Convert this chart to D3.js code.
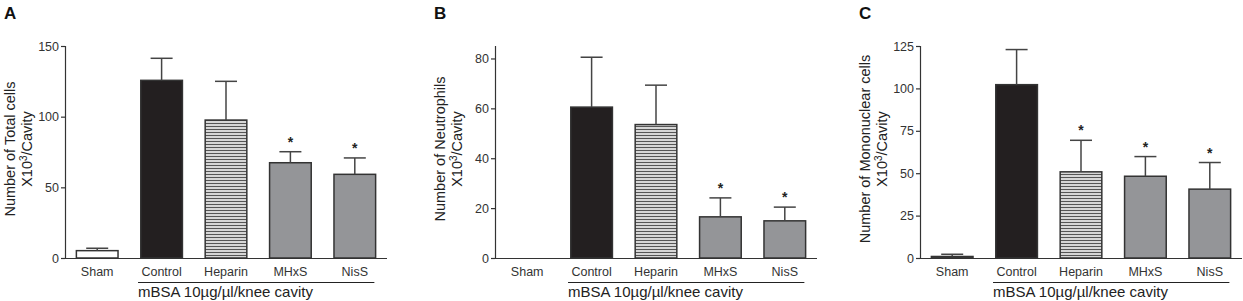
<!DOCTYPE html>
<html>
<head>
<meta charset="utf-8">
<script src="https://cdn.jsdelivr.net/npm/d3@7"></script>
<style>
  body { margin: 0; background: #fff; }
  svg { display: block; font-family: "Liberation Sans", Arial, sans-serif; }
</style>
</head>
<body>
<svg id="chart" width="1243" height="301"></svg>
<script>
const categories = ["Sham", "Control", "Heparin", "MHxS", "NisS"];
const groupLabel = "mBSA 10\u00b5g/\u00b5l/knee cavity";

const totalMean = [5.2, 125.7, 97.6, 67.4, 59.2];
const totalErr  = [6.9, 141.3, 125.0, 75.2, 70.8];
const totalStar = [false, false, false, true, true];
const totalTicks = [0, 50, 100, 150];

const neutroMean = [0, 60.5, 53.5, 16.5, 14.9];
const neutroErr  = [null, 80.5, 69.3, 24.1, 20.4];
const neutroStar = [false, false, false, true, true];
const neutroTicks = [0, 20, 40, 60, 80];

const monoMean = [0.9, 102.2, 50.8, 48.2, 40.6];
const monoErr  = [2.2, 122.9, 69.4, 59.8, 56.3];
const monoStar = [false, false, true, true, true];
const monoTicks = [0, 25, 50, 75, 100, 125];

const panels = [
  { letter: "A", title: "Number of Total cells", mean: totalMean, err: totalErr, star: totalStar, ticks: totalTicks, max: 150, x0: 65 },
  { letter: "B", title: "Number of Neutrophils", mean: neutroMean, err: neutroErr, star: neutroStar, ticks: neutroTicks, max: 85, x0: 495 },
  { letter: "C", title: "Number of Mononuclear cells", mean: monoMean, err: monoErr, star: monoStar, ticks: monoTicks, max: 125, x0: 920 }
];

const svg = d3.select("#chart");
const defs = svg.append("defs");
const pat = defs.append("pattern").attr("id", "stripes")
  .attr("patternUnits", "userSpaceOnUse").attr("width", 6).attr("height", 3);
pat.append("rect").attr("width", 6).attr("height", 3).attr("fill", "#d6d6d6");
pat.append("rect").attr("y", 0).attr("width", 6).attr("height", 1).attr("fill", "#555");

const fills = ["#ffffff", "#231f20", "url(#stripes)", "#949598", "#949598"];
const ink = "#333";
const yBottom = 258, yTop = 46, plotW = 322;

panels.forEach(p => {
  const g = svg.append("g");
  const x = d3.scaleBand().domain(categories).range([p.x0, p.x0 + plotW])
    .paddingInner(0.33).paddingOuter(0.165);
  const y = d3.scaleLinear().domain([0, p.max]).range([yBottom, yTop]);

  // panel letter
  g.append("text").attr("x", p.x0 - 61).attr("y", 19)
    .attr("font-size", 17).attr("font-weight", "bold").attr("fill", "#111").text(p.letter);

  // y axis
  const ax = g.append("g").attr("transform", `translate(${p.x0},0)`)
    .call(d3.axisLeft(y).tickValues(p.ticks).tickSize(4).tickPadding(2).tickSizeOuter(0));
  ax.select(".domain").attr("stroke", ink).attr("stroke-width", 1.2)
    .attr("d", `M0.5,${y(p.max)}V${yBottom}`);
  ax.selectAll(".tick line").attr("stroke", ink).attr("stroke-width", 1.2);
  ax.selectAll(".tick text").attr("font-size", 12.5).attr("fill", ink)
    .attr("font-family", "Liberation Sans, Arial, sans-serif");

  // x baseline
  g.append("line").attr("x1", p.x0).attr("x2", p.x0 + plotW)
    .attr("y1", yBottom + 0.5).attr("y2", yBottom + 0.5)
    .attr("stroke", ink).attr("stroke-width", 1.2);

  // bars
  categories.forEach((c, i) => {
    const v = p.mean[i];
    if (v > 0) {
      g.append("rect").attr("x", x(c) + 0.75).attr("y", y(v))
        .attr("width", x.bandwidth() - 1.5).attr("height", yBottom - y(v))
        .attr("fill", fills[i]).attr("stroke", ink).attr("stroke-width", 1.5);
    }
    const e = p.err[i];
    const cx = x(c) + x.bandwidth() / 2;
    if (e != null) {
      g.append("line").attr("x1", cx).attr("x2", cx).attr("y1", y(v)).attr("y2", y(e))
        .attr("stroke", "#444").attr("stroke-width", 1.5);
      g.append("line").attr("x1", cx - 11).attr("x2", cx + 11).attr("y1", y(e)).attr("y2", y(e))
        .attr("stroke", "#444").attr("stroke-width", 1.5);
    }
    if (p.star[i]) {
      g.append("text").attr("x", cx).attr("y", y(e) - 5)
        .attr("text-anchor", "middle").attr("font-size", 14).attr("font-weight", "bold")
        .attr("fill", "#222").text("*");
    }
    g.append("text").attr("x", cx).attr("y", 276).attr("text-anchor", "middle")
      .attr("font-size", 12.5).attr("fill", ink).text(c);
  });

  // group bracket
  const gx1 = x("Control") - 2, gx2 = x("NisS") + x.bandwidth() - 2;
  g.append("line").attr("x1", gx1).attr("x2", gx2).attr("y1", 282.5).attr("y2", 282.5)
    .attr("stroke", "#222").attr("stroke-width", 1.2);
  g.append("text").attr("x", gx1).attr("y", 297).attr("font-size", 15)
    .attr("fill", "#222").text(groupLabel);

  // y title
  const t = g.append("text").attr("transform", `translate(${p.x0 - 50.5},149) rotate(-90)`)
    .attr("text-anchor", "middle").attr("font-size", 14.5).attr("fill", "#222");
  t.append("tspan").attr("x", 0).attr("y", 0).text(p.title);
  const t2 = t.append("tspan").attr("x", 0).attr("y", 17.5);
  t2.append("tspan").text("X10");
  t2.append("tspan").attr("baseline-shift", "super").attr("font-size", 10).text("3");
  t2.append("tspan").text("/Cavity");
});
</script>
</body>
</html>
